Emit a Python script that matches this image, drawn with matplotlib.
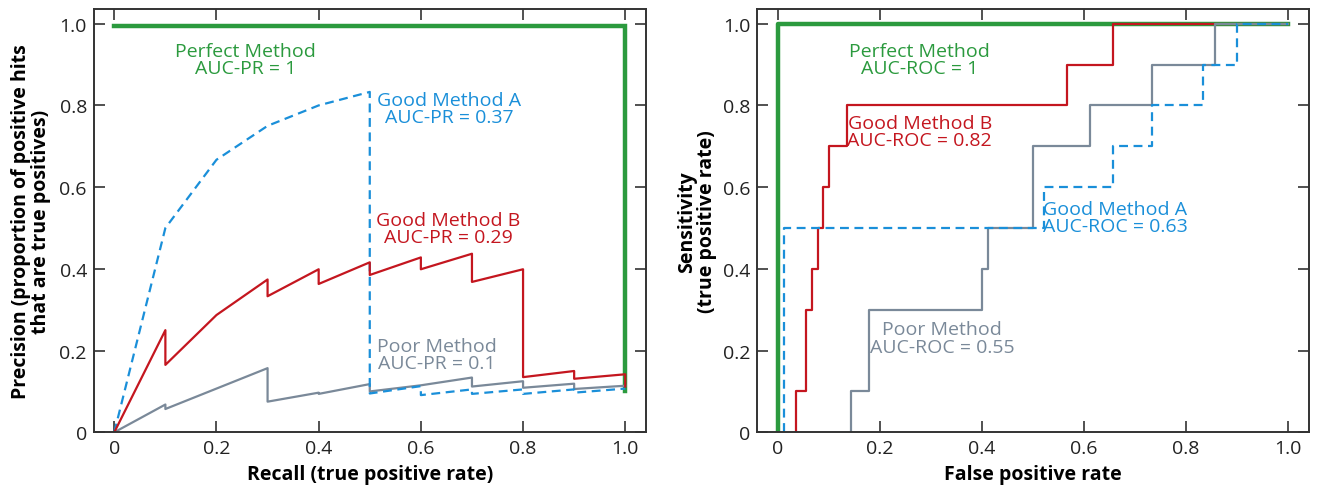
import matplotlib
matplotlib.use("Agg")
import matplotlib.pyplot as plt
import numpy as np

plt.rcParams['font.family'] = ['Open Sans', 'DejaVu Sans']

# colours of the four methods
c_perfect = '#2b9a3e'
c_goodA = '#1a8fd9'
c_goodB = '#c4161f'
c_poor = '#7a8999'
c_frame = '#333333'

# ---- precision / recall curves (left panel) ----
pr_recall_perfect = [0.0, 1.0, 1.0]
pr_prec_perfect = [0.995, 0.995, 0.10]

pr_recall_A = [0.0, 0.1, 0.2, 0.3, 0.4, 0.5, 0.5, 0.6, 0.6, 0.7, 0.7, 0.8, 0.8, 0.9, 0.9, 1.0]
pr_prec_A = [0.0, 0.5, 0.667, 0.75, 0.8, 0.833, 0.095, 0.113, 0.091, 0.105, 0.094, 0.105, 0.094, 0.105, 0.097, 0.107]

pr_recall_B = [0.0, 0.1, 0.1, 0.2, 0.3, 0.3, 0.4, 0.4, 0.5, 0.5, 0.6, 0.6, 0.7, 0.7,
               0.8, 0.8, 0.9, 0.9, 1.0, 1.0]
pr_prec_B = [0.0, 0.25, 0.165, 0.287, 0.374, 0.333, 0.399, 0.363, 0.416, 0.385, 0.428, 0.399,
             0.437, 0.368, 0.399, 0.135, 0.15, 0.131, 0.142, 0.112]

pr_recall_poor = [0.0, 0.1, 0.1, 0.3, 0.3, 0.4, 0.4, 0.5, 0.5, 0.6, 0.7, 0.7, 0.8, 0.8, 0.9, 0.9, 1.0]
pr_prec_poor = [0.0, 0.068, 0.057, 0.157, 0.075, 0.097, 0.094, 0.118, 0.100, 0.115, 0.134, 0.112,
                0.125, 0.109, 0.119, 0.106, 0.114]

# ---- ROC curves (right panel): fpr where tpr steps up, tpr after the step ----
roc_fpr_perfect = [0.0, 1.0]
roc_tpr_perfect = [1.0, 1.0]

roc_fpr_A = [0.012, 0.522, 0.656, 0.733, 0.833, 0.90, 1.0]
roc_tpr_A = [0.5, 0.6, 0.7, 0.8, 0.9, 1.0, 1.0]

roc_fpr_B = [0.035, 0.056, 0.067, 0.078, 0.089, 0.100, 0.135, 0.567, 0.656, 1.0]
roc_tpr_B = [0.1, 0.3, 0.4, 0.5, 0.6, 0.7, 0.8, 0.9, 1.0, 1.0]

roc_fpr_poor = [0.144, 0.178, 0.400, 0.411, 0.500, 0.611, 0.733, 0.856, 1.0]
roc_tpr_poor = [0.1, 0.3, 0.4, 0.5, 0.7, 0.8, 0.9, 1.0, 1.0]

ticks = [0, 0.2, 0.4, 0.6, 0.8, 1.0]
tick_labels = ['0', '0.2', '0.4', '0.6', '0.8', '1.0']

fig = plt.figure(figsize=(13.18, 4.89), dpi=100)
ax1 = fig.add_axes([0.0712, 0.1139, 0.4187, 0.8657])
ax2 = fig.add_axes([0.5746, 0.1139, 0.4183, 0.8657])

for ax in (ax1, ax2):
    ax.set_xlim(-0.04, 1.04)
    ax.set_ylim(0, 1.036)
    ax.set_xticks(ticks)
    ax.set_xticklabels(tick_labels)
    ax.set_yticks(ticks)
    ax.set_yticklabels(tick_labels)
    ax.tick_params(direction='in', top=True, right=True, length=8, width=1.2,
                   color=c_frame, labelsize=14, pad=5, labelcolor='#222222')
    for s in ax.spines.values():
        s.set_color(c_frame)
        s.set_linewidth(1.4)

txt = dict(ha='center', va='center', fontsize=14, linespacing=0.95)

# left: precision-recall
ax1.plot(pr_recall_perfect, pr_prec_perfect, color=c_perfect, lw=3.2, solid_joinstyle='miter')
ax1.plot(pr_recall_poor, pr_prec_poor, color=c_poor, lw=1.6)
ax1.plot(pr_recall_A, pr_prec_A, color=c_goodA, lw=1.6, ls=(0, (4, 2.5)))
ax1.plot(pr_recall_B, pr_prec_B, color=c_goodB, lw=1.6)

ax1.text(0.257, 0.912, 'Perfect Method\nAUC-PR = 1', color=c_perfect, **txt)
ax1.text(0.656, 0.793, 'Good Method A\nAUC-PR = 0.37', color=c_goodA, **txt)
ax1.text(0.654, 0.498, 'Good Method B\nAUC-PR = 0.29', color=c_goodB, **txt)
ax1.text(0.632, 0.19, 'Poor Method\nAUC-PR = 0.1', color=c_poor, **txt)

ax1.set_xlabel('Recall (true positive rate)', fontsize=14, fontweight='bold', labelpad=5)
ax1.set_ylabel('Precision (proportion of positive hits\nthat are true positives)', fontsize=14,
               fontweight='bold', linespacing=1.0, labelpad=6)

# right: ROC
ax2.step(np.r_[roc_fpr_perfect[0], roc_fpr_perfect], np.r_[0, roc_tpr_perfect], where='post',
         color=c_perfect, lw=3.2)
ax2.step(np.r_[roc_fpr_B[0], roc_fpr_B], np.r_[0, roc_tpr_B], where='post', color=c_goodB, lw=1.6)
ax2.step(np.r_[roc_fpr_poor[0], roc_fpr_poor], np.r_[0, roc_tpr_poor], where='post', color=c_poor, lw=1.6)
ax2.step(np.r_[roc_fpr_A[0], roc_fpr_A], np.r_[0, roc_tpr_A], where='post', color=c_goodA, lw=1.6,
         ls=(0, (4, 2.5)))

ax2.text(0.278, 0.913, 'Perfect Method\nAUC-ROC = 1', color=c_perfect, **txt)
ax2.text(0.278, 0.736, 'Good Method B\nAUC-ROC = 0.82', color=c_goodB, **txt)
ax2.text(0.661, 0.526, 'Good Method A\nAUC-ROC = 0.63', color=c_goodA, **txt)
ax2.text(0.322, 0.231, 'Poor Method\nAUC-ROC = 0.55', color=c_poor, **txt)

ax2.set_xlabel('False positive rate', fontsize=14, fontweight='bold', labelpad=5)
ax2.set_ylabel('Sensitivity\n(true positive rate)', fontsize=14, fontweight='bold',
               linespacing=1.0, labelpad=4)

fig.savefig('out.png', dpi=100)
